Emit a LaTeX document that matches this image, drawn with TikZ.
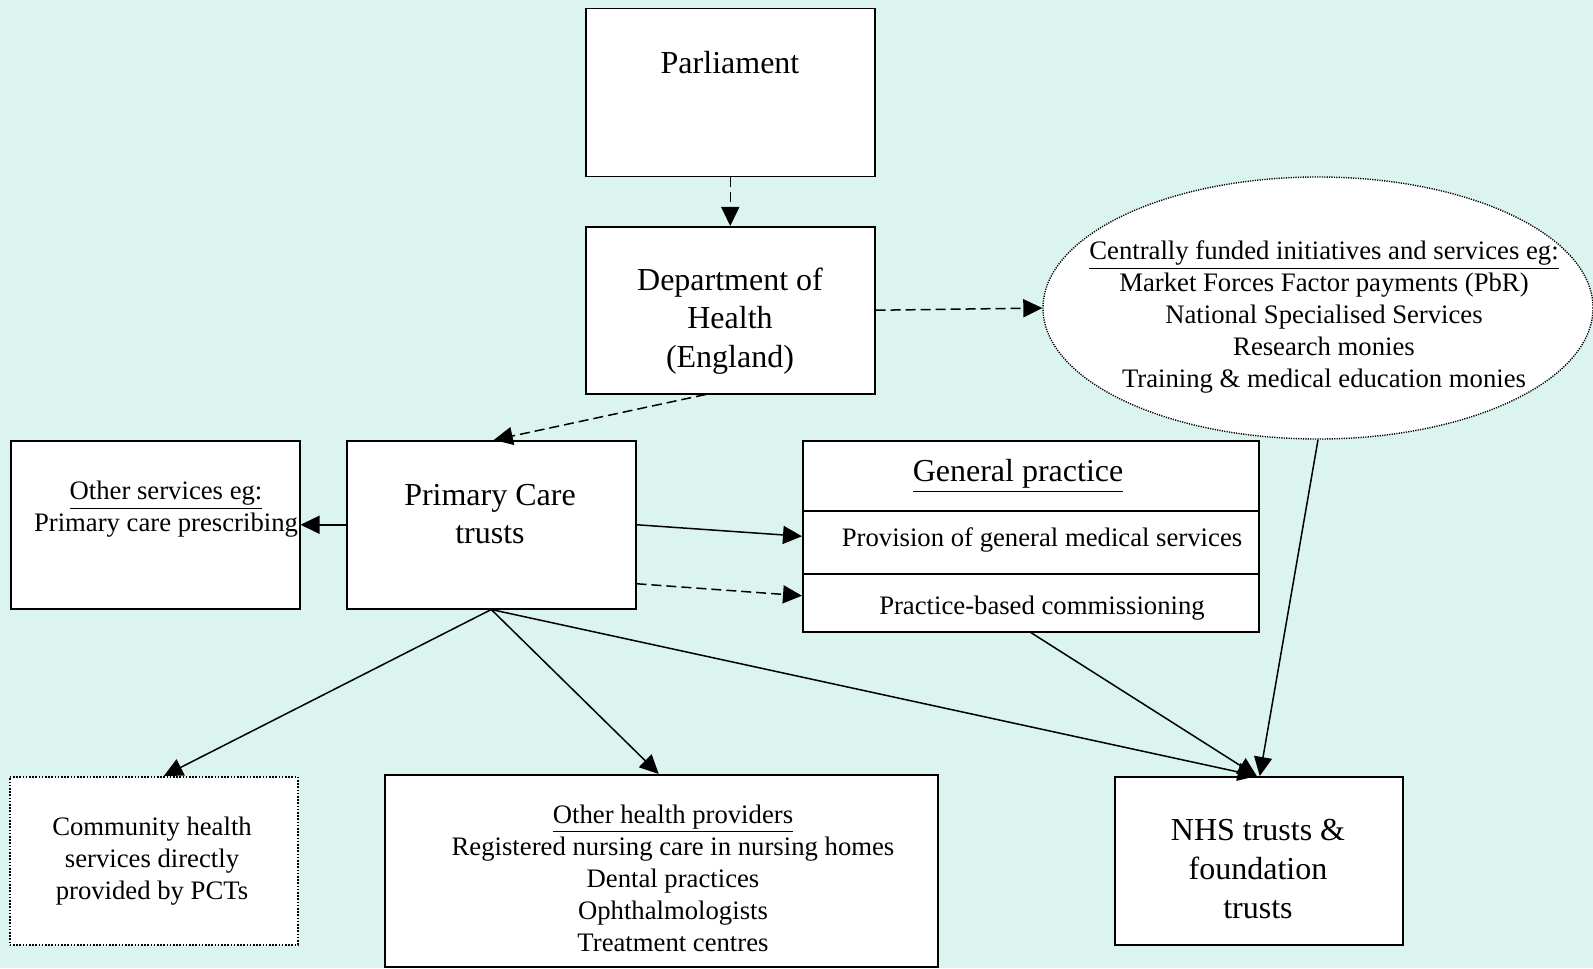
\documentclass[tikz,border=0pt]{standalone}
\usepackage{fontspec}
\setmainfont{Liberation Serif}
\usetikzlibrary{arrows.meta,shapes.geometric}
\definecolor{bg}{RGB}{220,244,240}
\begin{document}
\begin{tikzpicture}[x=0.5pt,y=-0.5pt,
  box/.style={draw, fill=white, line width=0.75pt, rectangle, inner sep=0pt, anchor=north west},
  dotbox/.style={box, dash pattern=on 0.8pt off 0.8pt},
  big/.style={font=\fontsize{16}{19.3}\selectfont, align=center, inner sep=0pt},
  small/.style={font=\fontsize{13.35}{16}\selectfont, align=center, inner sep=0pt},
  conn/.style={line width=0.75pt, -{Triangle[length=9.5pt,width=9pt]}},
  dconn/.style={conn, dash pattern=on 5pt off 2.5pt}]
\fill[bg] (0,0) rectangle (1593,968);
\useasboundingbox (0,0) rectangle (1593,968);
% boxes
\node[box, minimum width=144.5pt, minimum height=84pt] (parl) at (585,8) {};
\node[box, minimum width=144.5pt, minimum height=83.5pt] (doh) at (585,226) {};
\node[box, minimum width=144.5pt, minimum height=84pt] (oth) at (10,440) {};
\node[box, minimum width=144.5pt, minimum height=84pt] (pct) at (346,440) {};
\node[box, minimum width=228pt, minimum height=95.5pt] (gp) at (802,440) {};
\node[dotbox, minimum width=144pt, minimum height=84pt] (com) at (9,776) {};
\node[box, minimum width=276.5pt, minimum height=96pt] (ohp) at (384,774) {};
\node[box, minimum width=144pt, minimum height=84pt] (nhs) at (1114,776) {};
\node[draw, fill=white, ellipse, line width=0.7pt, dash pattern=on 0.6pt off 0.6pt,
      minimum width=275pt, minimum height=131pt, inner sep=0pt] (ell) at (1318,308) {};
\draw[line width=0.75pt] ([yshift=-35.5pt]gp.north west) coordinate (gpa) -- ([yshift=-35.5pt]gp.north east) coordinate (gpb);
\draw[line width=0.75pt] ([yshift=-67pt]gp.north west) coordinate (gpc) -- ([yshift=-67pt]gp.north east) coordinate (gpd);
% texts
\node[big] (tparl) at (730,63) {Parliament};
\node[big] (tdoh) at (730,321) {Department of\\Health\\(England)};
\node[small] (tell) at (1324,317) {\underline{Centrally funded initiatives and services eg:}\\Market Forces Factor payments (PbR)\\National Specialised Services\\Research monies\\Training \& medical education monies};
\node[small] (toth) at (166,509) {\underline{Other services eg:}\\Primary care prescribing};
\node[big] (tpct) at (490,514) {Primary Care\\trusts};
\node[big] (tgp) at (1018,476) {\underline{General practice}};
\node[small] (tgp1) at (1042,540) {Provision of general medical services};
\node[small] (tgp2) at (1042,608) {Practice-based commissioning};
\node[small] (tcom) at (152,861) {Community health\\services directly\\provided by PCTs};
\node[small] (tohp) at (673,878) {\underline{Other health providers}\\Registered nursing care in nursing homes\\Dental practices\\Ophthalmologists\\Treatment centres};
\node[big] (tnhs) at (1258,869) {NHS trusts \&\\foundation\\trusts};
% connectors
\draw[dconn] (parl.south) -- (doh.north);
\draw[dconn] (doh.east) -- (ell.west);
\draw[dconn] ([xshift=-12.25pt]doh.south) -- ([xshift=1.25pt]pct.north);
\draw[conn] (pct.west) -- (oth.east);
\draw[conn] (pct.east) -- (gp.west);
\draw[dconn] ([yshift=-29.5pt]pct.east) -- ([yshift=-29.75pt]gp.west);
\draw[conn] (pct.south) -- ([xshift=5pt]com.north);
\draw[conn] (pct.south) -- ([xshift=-1.25pt]ohp.north);
\draw[conn] (pct.south) -- ([xshift=-1pt]nhs.north);
\draw[conn] (gp.south) -- ([xshift=-1pt]nhs.north);
\draw[conn] (ell.south) -- ([xshift=0.5pt]nhs.north);
\end{tikzpicture}
\end{document}
